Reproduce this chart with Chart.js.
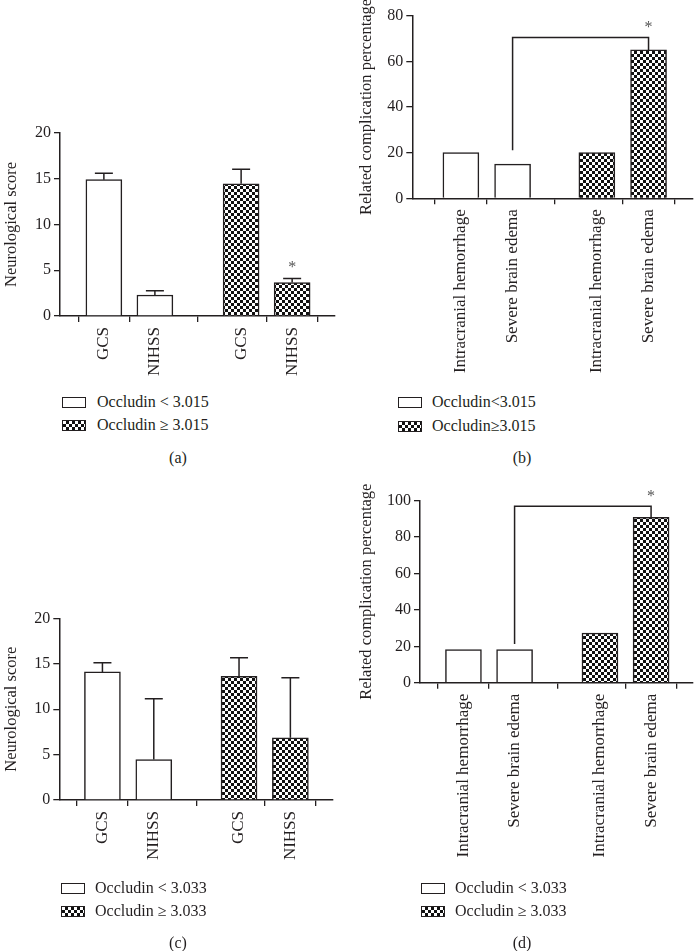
<!DOCTYPE html>
<html>
<head>
<meta charset="utf-8">
<script src="https://cdn.jsdelivr.net/npm/chart.js@4.4.1/dist/chart.umd.min.js"></script>
<style>
  body { margin: 0; background: #fff; width: 695px; height: 951px; position: relative; overflow: hidden;
         font-family: 'Liberation Serif', serif; color: #231f20; }
  canvas { position: absolute; }
  .leg { position: absolute; height: 20px; line-height: 20px; font-size: 16px; white-space: nowrap; }
  .sw { position: absolute; left: 0; top: 4.5px; width: 24px; height: 11px; box-sizing: border-box;
        border: 1px solid #231f20; background: #fff; }
  .sw.pat { background: repeating-conic-gradient(#111 0 25%, #fff 0 50%) 0 0 / 6px 6px; }
  .cap { position: absolute; width: 60px; margin-left: -30px; text-align: center; height: 20px; line-height: 20px; font-size: 16px; }
</style>
</head>
<body>
<canvas id="chartA" width="345" height="390" style="left:0;top:0"></canvas>
<canvas id="chartB" width="340" height="390" style="left:355px;top:0"></canvas>
<canvas id="chartC" width="345" height="400" style="left:0;top:480px"></canvas>
<canvas id="chartD" width="340" height="400" style="left:355px;top:480px"></canvas>

<div class="leg" style="left:62px;top:392px"><span class="sw"></span><span style="padding-left:35px">Occludin &lt; 3.015</span></div>
<div class="leg" style="left:62px;top:415px"><span class="sw pat"></span><span style="padding-left:35px">Occludin ≥ 3.015</span></div>
<div class="cap" style="left:178px;top:448px">(a)</div>

<div class="leg" style="left:398px;top:392px"><span class="sw"></span><span style="padding-left:34px">Occludin&lt;3.015</span></div>
<div class="leg" style="left:398px;top:416px"><span class="sw pat"></span><span style="padding-left:34px">Occludin≥3.015</span></div>
<div class="cap" style="left:522px;top:448px">(b)</div>

<div class="leg" style="left:61px;top:878px"><span class="sw"></span><span style="padding-left:34px">Occludin &lt; 3.033</span></div>
<div class="leg" style="left:61px;top:901px"><span class="sw pat"></span><span style="padding-left:34px">Occludin ≥ 3.033</span></div>
<div class="cap" style="left:178px;top:933px">(c)</div>

<div class="leg" style="left:421px;top:878px"><span class="sw"></span><span style="padding-left:34px">Occludin &lt; 3.033</span></div>
<div class="leg" style="left:421px;top:901px"><span class="sw pat"></span><span style="padding-left:34px">Occludin ≥ 3.033</span></div>
<div class="cap" style="left:522px;top:933px">(d)</div>

<script>
// categories
const scoreCats = ['GCS', 'NIHSS'];
const complCats = ['Intracranial hemorrhage', 'Severe brain edema'];

// (a) neurological score, cut-off 3.015
const scoreLowA = [14.9, 2.3];
const scoreLowErrA = [0.7, 0.45];
const scoreHighA = [14.45, 3.65];
const scoreHighErrA = [1.6, 0.45];

// (b) complication percentage, cut-off 3.015
const complLowB = [20, 15];
const complHighB = [20, 65];
const bracketB = [21, 70.5];   // start, top

// (c) neurological score, cut-off 3.033
const scoreLowC = [14.1, 4.45];
const scoreLowErrC = [1.0, 6.7];
const scoreHighC = [13.6, 6.85];
const scoreHighErrC = [2.05, 6.6];

// (d) complication percentage, cut-off 3.033
const complLowD = [18.2, 18.2];
const complHighD = [27.3, 90.9];
const bracketD = [21.3, 96.9];

const INK = '#231f20';
const FONT = { family: "'Liberation Serif', serif", size: 16 };
const XFONT = { family: "'Liberation Serif', serif", size: 17 };

function checker() {
  const c = document.createElement('canvas');
  c.width = 6; c.height = 6;
  const g = c.getContext('2d');
  g.fillStyle = '#fff'; g.fillRect(0, 0, 6, 6);
  g.fillStyle = '#111'; g.fillRect(0, 0, 3, 3); g.fillRect(3, 3, 3, 3);
  return g.createPattern(c, 'repeat');
}

// 误差线 + 显著性标记
const marksPlugin = {
  id: 'marks',
  afterDatasetsDraw(chart, args, opts) {
    const ctx = chart.ctx;
    const y = chart.scales.y;
    ctx.save();
    ctx.strokeStyle = INK;
    ctx.lineWidth = 1.5;
    chart.data.datasets.forEach((ds, di) => {
      if (!ds.errors) return;
      chart.getDatasetMeta(di).data.forEach((bar, i) => {
        const top = y.getPixelForValue(ds.data[i].y + ds.errors[i]);
        ctx.beginPath();
        ctx.moveTo(bar.x, bar.y); ctx.lineTo(bar.x, top);
        ctx.moveTo(bar.x - 9, top); ctx.lineTo(bar.x + 9, top);
        ctx.stroke();
      });
    });

    let starX = null, starY = null;
    if (opts.star) {
      const [di, i] = opts.star;
      const ds = chart.data.datasets[di];
      const bar = chart.getDatasetMeta(di).data[i];
      starX = bar.x;
      starY = y.getPixelForValue(ds.data[i].y + (ds.errors ? ds.errors[i] : 0)) - 14;
    }
    if (opts.bracket) {
      const a = chart.getDatasetMeta(opts.from[0]).data[opts.from[1]];
      const b = chart.getDatasetMeta(opts.to[0]).data[opts.to[1]];
      const yStart = y.getPixelForValue(opts.bracket[0]);
      const yTop = y.getPixelForValue(opts.bracket[1]);
      ctx.beginPath();
      ctx.moveTo(a.x, yStart); ctx.lineTo(a.x, yTop);
      ctx.lineTo(b.x, yTop); ctx.lineTo(b.x, b.y);
      ctx.stroke();
      starX = b.x;
      starY = yTop - 13;
    }
    if (starX !== null) {
      ctx.fillStyle = '#555';
      ctx.font = "16px 'Liberation Serif', serif";
      ctx.textAlign = 'center';
      ctx.textBaseline = 'alphabetic';
      ctx.fillText('*', starX, starY + 8);
    }
    ctx.restore();
  }
};

function panel(id, o) {
  // two groups of two bars, with a wider gap between the groups
  const pos = [0, 1, 2 + o.gap, 3 + o.gap];
  const xLabels = [...o.cats, ...o.cats];
  return new Chart(document.getElementById(id), {
    type: 'bar',
    data: {
      datasets: [{
        label: 'low',
        data: o.low.map((v, i) => ({ x: pos[i], y: v })),
        errors: o.lowErr,
        backgroundColor: '#fff'
      }, {
        label: 'high',
        data: o.high.map((v, i) => ({ x: pos[i + 2], y: v })),
        errors: o.highErr,
        backgroundColor: checker()
      }]
    },
    plugins: [marksPlugin],
    options: {
      responsive: false,
      animation: false,
      layout: { padding: { left: 0, right: o.padRight, top: o.padTop, bottom: 0 } },
      datasets: {
        bar: { grouped: false, barThickness: 36, borderColor: INK, borderWidth: 1.5 }
      },
      plugins: {
        legend: { display: false },
        tooltip: { enabled: false },
        marks: o.marks || {}
      },
      scales: {
        x: {
          type: 'linear',
          min: o.xMin,
          max: o.xMax,
          offset: false,
          afterBuildTicks: s => { s.ticks = pos.map(v => ({ value: v })); },
          afterFit: s => { s.height = o.xAxisH; },
          grid: { drawOnChartArea: false, tickLength: 6, color: INK, lineWidth: 1.3 },
          border: { color: INK, width: 1.5 },
          ticks: {
            autoSkip: false, minRotation: 90, maxRotation: 90, padding: 5,
            color: INK, font: XFONT,
            callback: (v, i) => xLabels[i]
          }
        },
        y: {
          min: 0,
          max: o.yMax,
          afterFit: s => { s.width = o.yAxisW; },
          grid: { drawOnChartArea: false, tickLength: 6, color: INK, lineWidth: 1.3 },
          border: { color: INK, width: 1.5 },
          ticks: { stepSize: o.step, padding: 3, color: INK, font: FONT },
          title: { display: true, text: o.yTitle, color: INK, font: { family: FONT.family, size: 16.5 }, padding: { top: 2, bottom: 0 } }
        }
      }
    }
  });
}

panel('chartA', {
  cats: scoreCats, low: scoreLowA, lowErr: scoreLowErrA, high: scoreHighA, highErr: scoreHighErrA,
  gap: 0.69, xMin: -0.86, xMax: 4.53, yMax: 20, step: 5, yTitle: 'Neurological score',
  yAxisW: 60, padTop: 133, padRight: 10, xAxisH: 74,
  marks: { star: [1, 1] }
});

panel('chartB', {
  cats: complCats, low: complLowB, high: complHighB,
  gap: 0.63, xMin: -0.94, xMax: 4.49, yMax: 80, step: 20, yTitle: 'Related complication percentage',
  yAxisW: 57.3, padTop: 15.7, padRight: 2, xAxisH: 191.7,
  marks: { bracket: bracketB, from: [0, 1], to: [1, 1] }
});

panel('chartC', {
  cats: scoreCats, low: scoreLowC, lowErr: scoreLowErrC, high: scoreHighC, highErr: scoreHighErrC,
  gap: 0.66, xMin: -0.84, xMax: 4.49, yMax: 20, step: 5, yTitle: 'Neurological score',
  yAxisW: 59.3, padTop: 138.3, padRight: 12, xAxisH: 80
});

panel('chartD', {
  cats: complCats, low: complLowD, high: complHighD,
  gap: 0.67, xMin: -0.85, xMax: 4.49, yMax: 100, step: 20, yTitle: 'Related complication percentage',
  yAxisW: 65, padTop: 20.7, padRight: 2, xAxisH: 197.3,
  marks: { bracket: bracketD, from: [0, 1], to: [1, 1] }
});
</script>
</body>
</html>
